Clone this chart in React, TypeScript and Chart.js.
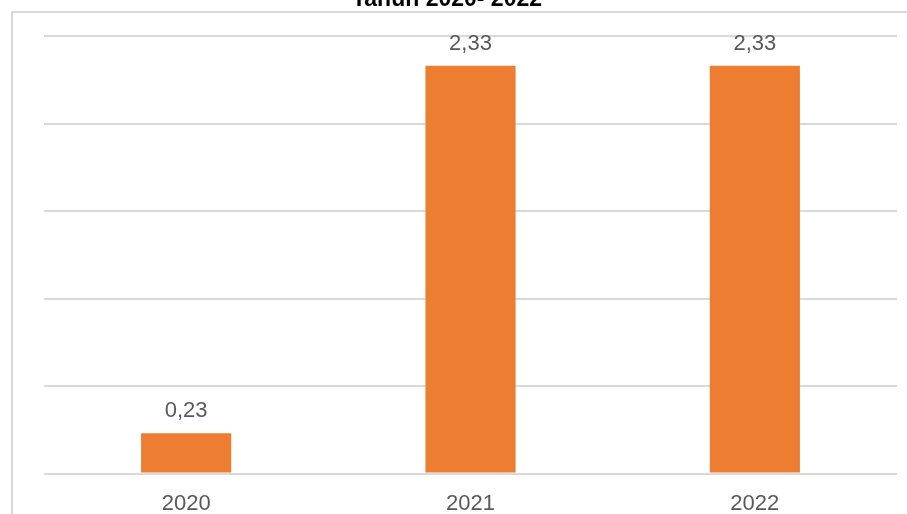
import React, { useEffect, useRef } from "react";
import { Chart, registerables } from "chart.js";

Chart.register(...registerables);

const categories = ["2020", "2021", "2022"];
const values = [0.23, 2.33, 2.33];
const titleText = "Tahun 2020- 2022";

const frameAndLabels = {
  id: "frameAndLabels",
  beforeDraw(chart: any) {
    const ctx = chart.ctx;
    ctx.save();
    ctx.fillStyle = "#ffffff";
    ctx.fillRect(0, 0, chart.width, chart.height);
    ctx.strokeStyle = "#D9D9D9";
    ctx.lineWidth = 2;
    ctx.strokeRect(12, 12, chart.width + 20, chart.height + 20);
    ctx.restore();
  },
  afterDatasetsDraw(chart: any) {
    const ctx = chart.ctx;
    ctx.save();
    ctx.font = "bold 23px 'Liberation Sans', Arial, sans-serif";
    ctx.fillStyle = "#000000";
    ctx.textAlign = "center";
    ctx.textBaseline = "alphabetic";
    ctx.fillText(titleText, 447, 6);

    ctx.font = "22px 'Liberation Sans', Arial, sans-serif";
    ctx.fillStyle = "#595959";
    ctx.textBaseline = "alphabetic";
    const meta = chart.getDatasetMeta(0);
    meta.data.forEach((bar: any, i: number) => {
      const txt = values[i].toFixed(2).replace(".", ",");
      ctx.fillText(txt, bar.x, bar.y - 16);
    });
    ctx.restore();
  },
};

export default function App() {
  const ref = useRef<HTMLCanvasElement | null>(null);
  useEffect(() => {
    if (!ref.current) return;
    const chart = new Chart(ref.current, {
      type: "bar",
      data: {
        labels: categories,
        datasets: [
          {
            data: values,
            backgroundColor: "#ED7D31",
            borderWidth: 0,
            barPercentage: 0.317,
            categoryPercentage: 1,
          },
        ],
      },
      options: {
        animation: false,
        responsive: false,
        maintainAspectRatio: false,
        layout: { padding: { left: 44, right: 10, top: 36, bottom: 6 } },
        plugins: {
          legend: { display: false },
          title: { display: false },
          tooltip: { enabled: false },
        },
        scales: {
          x: {
            grid: { display: false, drawTicks: false },
            border: { display: false },
            ticks: {
              color: "#595959",
              padding: 17,
              font: { family: "'Liberation Sans', Arial, sans-serif", size: 22 },
            },
          },
          y: {
            min: 0,
            max: 2.5,
            ticks: { display: false, stepSize: 0.5 },
            grid: { color: "#D9D9D9", lineWidth: 2, drawTicks: false },
            border: { display: false },
          },
        },
      },
      plugins: [frameAndLabels],
    });
    return () => chart.destroy();
  }, []);
  return (
    <div style={{ position: "fixed", left: 0, top: 0, width: 907, height: 540, overflow: "hidden" }}>
      <canvas ref={ref} width={907} height={540} style={{ display: "block", width: 907, height: 540 }} />
    </div>
  );
}
